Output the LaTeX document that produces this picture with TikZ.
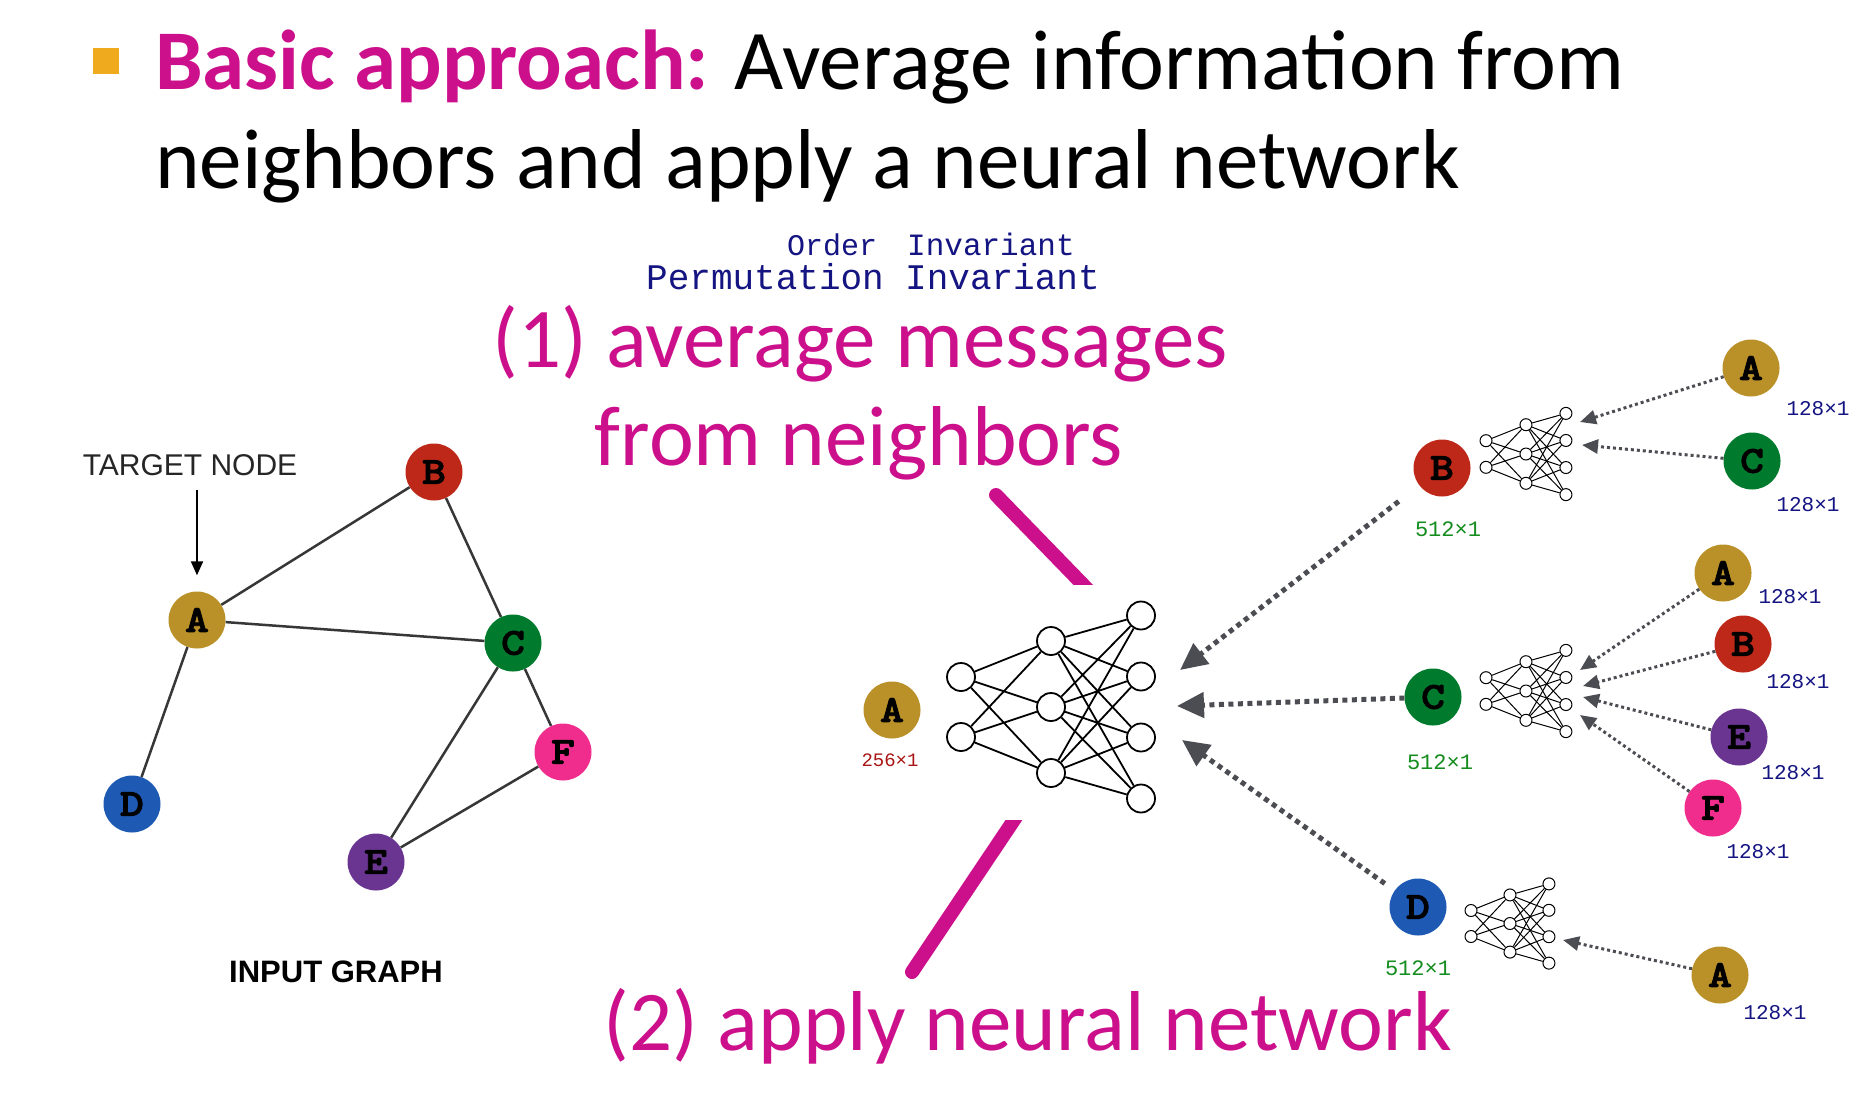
\documentclass[tikz,border=0pt]{standalone}
\usepackage{fontspec}
\setmainfont{Carlito}
\newfontfamily\monof{Liberation Mono}
\newfontfamily\arialf{Liberation Sans}
\newfontfamily\courb{lmmonolt10-bold.otf}[FakeBold=2.5, FakeStretch=1.2]
\usetikzlibrary{arrows.meta}
\definecolor{mag}{RGB}{204,16,140}
\definecolor{bulletc}{RGB}{240,170,30}
\definecolor{cA}{RGB}{186,145,40}
\definecolor{cB}{RGB}{190,40,25}
\definecolor{cC}{RGB}{0,122,45}
\definecolor{cD}{RGB}{30,90,180}
\definecolor{cE}{RGB}{106,53,145}
\definecolor{cF}{RGB}{240,45,140}
\definecolor{edgegray}{RGB}{55,55,55}
\definecolor{arrgray}{RGB}{75,77,82}
\definecolor{hgreen}{RGB}{20,140,30}
\definecolor{hred}{RGB}{170,20,20}
\definecolor{hnavy}{RGB}{20,20,130}
\newcommand\nnet[6]{% prefix, x, y, scale, node size, line width
  \begin{scope}[shift={(#2,#3)}]
    \foreach \k [count=\i] in {-30,30}
      \node[neuron, minimum size=#5, line width=#6] (#1a\i) at (0,\k*#4) {};
    \foreach \k [count=\i] in {-66,0,66}
      \node[neuron, minimum size=#5, line width=#6] (#1b\i) at (90*#4,\k*#4) {};
    \foreach \k [count=\i] in {-91.5,-30.5,30.5,91.5}
      \node[neuron, minimum size=#5, line width=#6] (#1c\i) at (180*#4,\k*#4) {};
    \foreach \i in {1,2} \foreach \j in {1,2,3}
      \draw[line width=#6] (#1a\i) -- (#1b\j);
    \foreach \i in {1,2,3} \foreach \j in {1,2,3,4}
      \draw[line width=#6] (#1b\i) -- (#1c\j);
  \end{scope}}
\begin{document}
\begin{tikzpicture}[x=1pt,y=-1pt,
  gnode/.style={circle, minimum size=57pt, inner sep=0pt, text=black,
    font=\courb\fontsize{38}{38}\selectfont},
  gedge/.style={draw=edgegray, line width=2.5pt},
  neuron/.style={circle, draw=black, fill=white, inner sep=0pt},
  bigarrow/.style={draw=arrgray, line width=5pt, dash pattern=on 5pt off 4.5pt,
    -{Triangle[length=27pt,width=25pt,fill=arrgray]}},
  smallarrow/.style={draw=arrgray, line width=3pt, dash pattern=on 3pt off 3pt,
    -{Triangle[length=16pt,width=14pt,fill=arrgray]}},
  hand/.style={inner sep=0pt, anchor=base west, text=hnavy},
  lab/.style={inner sep=0pt, font=\monof\fontsize{21}{21}\selectfont},
  big/.style={inner sep=0pt, anchor=base, text=mag, font=\fontsize{85}{100}\selectfont}
]
\useasboundingbox (0,0) rectangle (1870,1104);
\fill[white] (0,0) rectangle (1870,1104);

% header
\node[fill=bulletc, minimum size=26pt, inner sep=0pt] (bul) at (106,61) {};
\node[inner sep=0pt, anchor=base west, font=\fontsize{85}{100}\selectfont] (h1) at (155,89)
  {\textcolor{mag}{\textbf{Basic approach:}} Average information from};
\node[inner sep=0pt, anchor=base west, font=\fontsize{85}{100}\selectfont] (h2) at (155,188)
  {neighbors and apply a neural network};

% handwritten notes
\node[hand, font=\monof\fontsize{30}{30}\selectfont] (o1) at (787,255) {Order};
\node[hand, font=\monof\fontsize{31}{31}\selectfont] (o2) at (907,255) {Invariant};
\node[hand, font=\monof\fontsize{36}{36}\selectfont] (p1) at (646,289) {Permutation};
\node[hand, font=\monof\fontsize{36}{36}\selectfont] (p2) at (905,289) {Invariant};

% big magenta texts
\node[big] (t1) at (860,367) {(1) average messages};
\node[big] (t2) at (859,465) {from neighbors};
\node[big] (t3) at (1028,1050) {(2) apply neural network};

% magenta bars
\begin{scope}
  \clip (0,0) rectangle (1870,584);
  \draw[mag, line width=14pt, line cap=round] (996,495) -- (1095,597);
\end{scope}
\begin{scope}
  \clip (0,820) rectangle (1870,1104);
  \draw[mag, line width=14pt, line cap=round] (1024,805) -- (912,972);
\end{scope}

% input graph
\node[gnode, fill=cA] (gA) at (197,620) {A};
\node[gnode, fill=cB] (gB) at (434,472) {B};
\node[gnode, fill=cC] (gC) at (513,643) {C};
\node[gnode, fill=cD] (gD) at (132,804) {D};
\node[gnode, fill=cE] (gE) at (376,862) {E};
\node[gnode, fill=cF] (gF) at (563,752) {F};
\draw[gedge] (gA) -- (gB);
\draw[gedge] (gA) -- (gC);
\draw[gedge] (gB) -- (gC);
\draw[gedge] (gA) -- (gD);
\draw[gedge] (gC) -- (gE);
\draw[gedge] (gC) -- (gF);
\draw[gedge] (gE) -- (gF);
\node[inner sep=0pt, anchor=base, text=black!85, font=\arialf\fontsize{30}{30}\selectfont] (tn) at (190,475) {TARGET NODE};
\draw[line width=2pt, -{Triangle[length=14pt,width=12pt]}, shorten <=14pt, shorten >=16pt]
  (tn.south -| gA.north) -- (gA.north);
\node[inner sep=0pt, anchor=base, font=\arialf\bfseries\fontsize{31}{31}\selectfont] (ig) at (336,982) {INPUT GRAPH};

% middle: target A and big network
\node[gnode, fill=cA] (mA) at (892,710) {A};
\node[lab, text=hred, font=\monof\fontsize{19}{19}\selectfont] (l256) at (890,760) {256×1};
\nnet{n}{961}{707}{1}{28pt}{1.8pt}

% right: B branch
\node[gnode, fill=cB] (rB) at (1442,468) {B};
\node[lab, text=hgreen, font=\monof\fontsize{22}{22}\selectfont] (lB) at (1448,529) {512×1};
\nnet{bn}{1486}{454}{0.444}{12pt}{1pt}
\node[gnode, fill=cA] (rBA) at (1751,368) {A};
\node[gnode, fill=cC] (rBC) at (1752,461) {C};
\node[lab, text=hnavy] (lBA) at (1818,409) {128×1};
\node[lab, text=hnavy] (lBC) at (1808,505) {128×1};
\coordinate (tBA) at (1580,422);
\coordinate (tBC) at (1582,445);
\draw[smallarrow] (rBA) -- (tBA);
\draw[smallarrow] (rBC) -- (tBC);

% right: C branch
\node[gnode, fill=cC] (rC) at (1433,697) {C};
\node[lab, text=hgreen, font=\monof\fontsize{22}{22}\selectfont] (lC) at (1440,762) {512×1};
\nnet{cn}{1486}{691}{0.444}{12pt}{1pt}
\node[gnode, fill=cA] (rCA) at (1723,573) {A};
\node[gnode, fill=cB] (rCB) at (1743,644) {B};
\node[gnode, fill=cE] (rCE) at (1739,737) {E};
\node[gnode, fill=cF] (rCF) at (1713,808) {F};
\node[lab, text=hnavy] (lCA) at (1790,597) {128×1};
\node[lab, text=hnavy] (lCB) at (1798,682) {128×1};
\node[lab, text=hnavy] (lCE) at (1793,773) {128×1};
\node[lab, text=hnavy] (lCF) at (1758,852) {128×1};
\coordinate (tCA) at (1580,670);
\coordinate (tCB) at (1583,686);
\coordinate (tCE) at (1583,697);
\coordinate (tCF) at (1580,715);
\draw[smallarrow] (rCA) -- (tCA);
\draw[smallarrow] (rCB) -- (tCB);
\draw[smallarrow] (rCE) -- (tCE);
\draw[smallarrow] (rCF) -- (tCF);

% right: D branch
\node[gnode, fill=cD] (rD) at (1418,907) {D};
\node[lab, text=hgreen, font=\monof\fontsize{22}{22}\selectfont] (lD) at (1418,968) {512×1};
\nnet{dn}{1471}{923.5}{0.433}{12pt}{1pt}
\node[gnode, fill=cA] (rDA) at (1720,975) {A};
\node[lab, text=hnavy] (lDA) at (1775,1013) {128×1};
\coordinate (tDA) at (1563,940);
\draw[smallarrow] (rDA) -- (tDA);

% big arrows into the network
\coordinate (tB) at (1180,670);
\coordinate (tC) at (1177,706);
\coordinate (tD) at (1182,740);
\draw[bigarrow, shorten <=26pt] (rB) -- (tB);
\draw[bigarrow] (rC) -- (tC);
\draw[bigarrow, shorten <=12pt] (rD) -- (tD);
\end{tikzpicture}
\end{document}
